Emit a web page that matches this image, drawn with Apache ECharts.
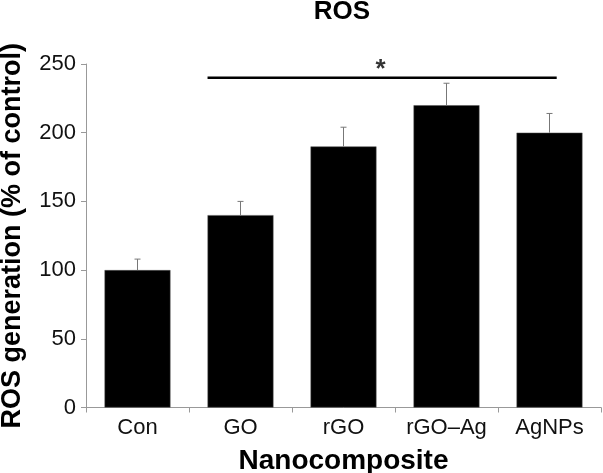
<!DOCTYPE html>
<html>
<head>
<meta charset="utf-8">
<script src="https://cdn.jsdelivr.net/npm/echarts@6/dist/echarts.min.js"></script>
<style>html,body{margin:0;padding:0;background:#fff;}#c{width:603px;height:473px;}</style>
</head>
<body>
<div id="c"></div>
<script>
const categories = ['Con', 'GO', 'rGO', 'rGO\u2013Ag', 'AgNPs'];
const rosValues = [100, 140, 190, 220, 200];
const rosErrors = [8, 10, 14, 16, 14];
const yTicks = [0, 50, 100, 150, 200, 250];
const sigStart = 1.18;
const sigEnd = 4.57;
const sigLevel = 240;
const sigStarX = 2.86;
const sigStarY = 240;

const chart = echarts.init(document.getElementById('c'), null, {renderer: 'canvas'});
const FONT = 'Liberation Sans, Arial, sans-serif';

chart.setOption({
  animation: false,
  backgroundColor: '#fff',
  title: {
    text: 'ROS',
    left: 342, top: -1, textAlign: 'center', padding: 0,
    textStyle: {fontFamily: FONT, fontWeight: 'bold', fontSize: 26, color: '#000'}
  },
  grid: {left: 86, right: 2, top: 64, bottom: 65.5, containLabel: false, outerBoundsMode: 'none'},
  xAxis: [{
    type: 'category',
    data: categories,
    name: 'Nanocomposite',
    nameLocation: 'middle',
    nameGap: 40,
    nameTextStyle: {fontFamily: FONT, fontWeight: 'bold', fontSize: 28, color: '#000'},
    axisLine: {lineStyle: {color: '#999', width: 1}},
    axisTick: {show: true, length: 5, lineStyle: {color: '#999'}},
    axisLabel: {interval: 0, fontFamily: FONT, fontSize: 22, color: '#111', margin: 9}
  }, {
    type: 'value', min: 0, max: 5, show: false
  }],
  yAxis: {
    type: 'value', min: yTicks[0], max: yTicks[yTicks.length - 1], interval: 50,
    name: 'ROS generation (% of control)',
    nameLocation: 'middle',
    nameGap: 60,
    nameTextStyle: {fontFamily: FONT, fontWeight: 'bold', fontSize: 27, color: '#000'},
    axisLine: {show: true, lineStyle: {color: '#999', width: 1}},
    axisTick: {show: true, length: 5, lineStyle: {color: '#999'}},
    axisLabel: {fontFamily: FONT, fontSize: 22, color: '#111', margin: 10},
    splitLine: {show: false}
  },
  series: [{
    type: 'bar',
    data: rosValues,
    barCategoryGap: '36%',
    itemStyle: {color: '#000', borderColor: '#555', borderWidth: 0.5}
  }, {
    type: 'custom',
    data: rosValues.map((v, i) => [i, v, v + rosErrors[i]]),
    z: 5,
    renderItem: function (params, api) {
      const p0 = api.coord([api.value(0), api.value(1)]);
      const p1 = api.coord([api.value(0), api.value(2)]);
      const hw = 3;
      return {
        type: 'group',
        children: [
          {type: 'line', shape: {x1: p0[0], y1: p0[1], x2: p1[0], y2: p1[1]}, style: {stroke: '#777', lineWidth: 1}},
          {type: 'line', shape: {x1: p1[0] - hw, y1: p1[1], x2: p1[0] + hw, y2: p1[1]}, style: {stroke: '#777', lineWidth: 1}}
        ]
      };
    }
  }, {
    type: 'line',
    xAxisIndex: 1,
    data: [[sigStart, sigLevel], [sigEnd, sigLevel]],
    symbol: 'none',
    lineStyle: {color: '#000', width: 2.5},
    z: 6
  }, {
    type: 'scatter',
    xAxisIndex: 1,
    data: [[sigStarX, sigStarY]],
    symbolSize: 0,
    label: {show: true, formatter: '*', position: 'top', distance: -5, fontFamily: FONT, fontWeight: 'bold', fontSize: 26, color: '#000'},
    z: 6
  }]
});
</script>
</body>
</html>
